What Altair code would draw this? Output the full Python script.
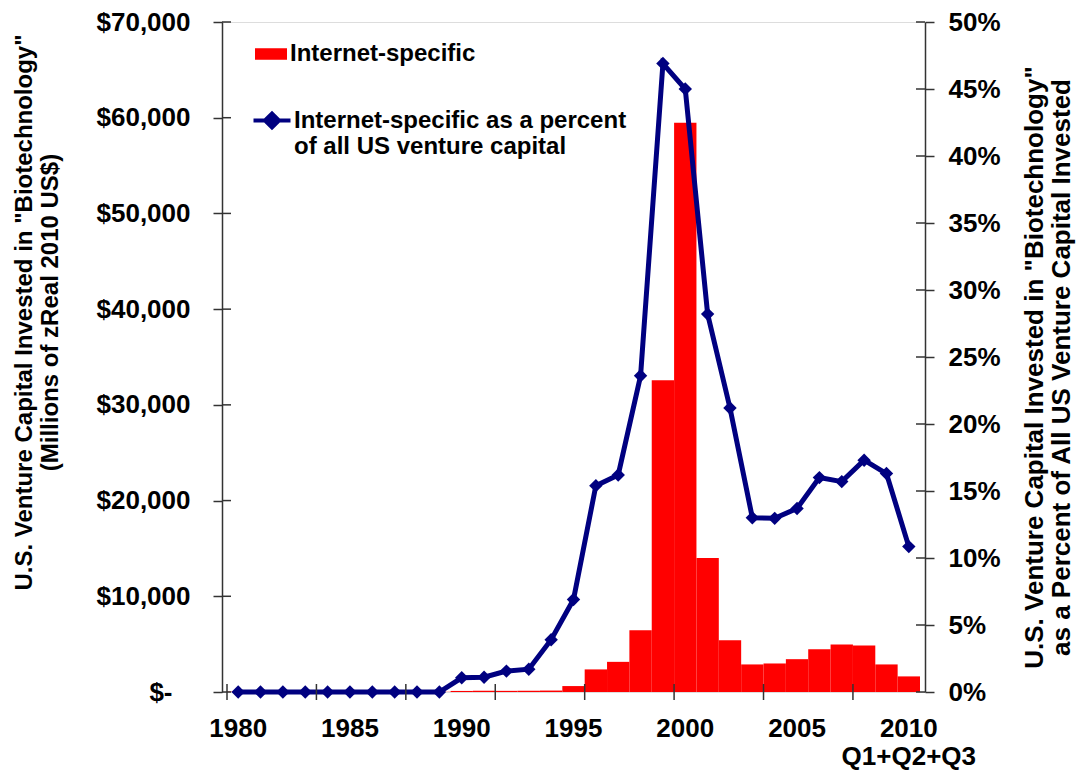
import altair as alt
import pandas as pd

# ---------------- data ----------------
years = list(range(1980, 2011))
internet_musd = [40, 20, 20, 20, 20, 20, 20, 20, 20, 20,
                 110, 120, 120, 130, 150, 620, 2360, 3150, 6440, 32570,
                 59470, 13990, 5400, 2880, 2980, 3430, 4470, 4950, 4850, 2880, 1630]
internet_pct = [0, 0, 0, 0, 0, 0, 0, 0, 0, 0,
                1.06, 1.1, 1.56, 1.7, 3.9, 6.9, 15.4, 16.2, 23.6, 46.9,
                45.0, 28.2, 21.2, 13.0, 12.96, 13.7, 16.0, 15.7, 17.3, 16.3, 10.85]
left_ticks = [0, 10000, 20000, 30000, 40000, 50000, 60000, 70000]
right_ticks = [0, 5, 10, 15, 20, 25, 30, 35, 40, 45, 50]
x_label_years = [1980, 1985, 1990, 1995, 2000, 2005, 2010]
x_labels = ["1980", "1985", "1990", "1995", "2000", "2005", "2010|Q1+Q2+Q3"]
x_tick_edges = [1979.5, 1983.5, 1987.5, 1991.5, 1995.5, 1999.5, 2003.5, 2007.5]
bar_series = "Internet-specific"
line_series = "Internet-specific as a percent|of all US venture capital"
left_title = ['U.S. Venture Capital Invested in "Biotechnology"', '(Millions of zReal 2010 US$)']
right_title = ['U.S. Venture Capital Invested in "Biotechnology"',
               'as a Percent of All US Venture Capital Invested']

# ---------------- styling ----------------
W, H = 703, 670
FONT = "Liberation Sans"
NAVY = "#000080"
RED = "#ff0000"
AX = "#333333"

df = pd.DataFrame({"year": years, "musd": internet_musd, "pct": internet_pct})
df["bar_series"] = bar_series
df["line_series"] = line_series

xscale = alt.Scale(domain=[1979.5, 2010.5], nice=False, zero=False)
yl = alt.Scale(domain=[0, 70000], nice=False)
yr = alt.Scale(domain=[0, 50], nice=False)

base = alt.Chart(df)

bars = base.transform_calculate(
    x0="datum.year - 0.5", x1="datum.year + 0.5"
).mark_bar(strokeWidth=0, orient="vertical").encode(
    x=alt.X("x0:Q", scale=xscale, axis=None),
    x2="x1:Q",
    y=alt.Y("musd:Q", scale=yl,
            axis=alt.Axis(values=left_ticks,
                          labelExpr="datum.value == 0 ? '$-' : '$' + format(datum.value, ',')",
                          grid=False, tickSize=9, tickWidth=1.5, tickColor=AX,
                          domainColor=AX, domainWidth=1.5,
                          labelPadding={"condition": {"test": "datum.value == 0", "value": 41},
                                        "value": 23},
                          labelFont=FONT, labelFontSize=26, labelFontWeight="bold",
                          labelColor="black", labelOverlap=False,
                          title=left_title, titleFont=FONT, titleFontSize=24,
                          titleFontWeight="bold", titleColor="black", titleAngle=270,
                          titleX=-198, titleY=290, titleAlign="center",
                          titleBaseline="middle", titleLineHeight=26)),
    y2=alt.datum(0),
    fill=alt.Fill("bar_series:N", scale=alt.Scale(range=[RED]),
                  legend=alt.Legend(title=None, orient="none", legendX=33, legendY=16,
                                    symbolType="M-1,-0.36L1,-0.36L1,0.36L-1,0.36Z",
                                    symbolSize=1024, symbolStrokeWidth=0,
                                    labelFont=FONT, labelFontSize=24, labelFontWeight="bold",
                                    labelColor="black", labelOffset=3, labelLimit=600)),
)

line = base.mark_line(strokeWidth=5).encode(
    x=alt.X("year:Q", scale=xscale, axis=None),
    y=alt.Y("pct:Q", scale=yr,
            axis=alt.Axis(orient="right", values=right_ticks,
                          labelExpr="datum.value + '%'",
                          grid=False, tickSize=9, tickWidth=1.5, tickColor=AX,
                          domainColor=AX, domainWidth=1.5, labelPadding=14,
                          labelFont=FONT, labelFontSize=26, labelFontWeight="bold",
                          labelColor="black", labelOverlap=False,
                          title=right_title, titleFont=FONT, titleFontSize=26,
                          titleFontWeight="bold", titleColor="black", titleAngle=270,
                          titleX=109, titleY=345, titleAlign="center",
                          titleBaseline="middle", titleLineHeight=27)),
    stroke=alt.Stroke("line_series:N", scale=alt.Scale(range=[NAVY]),
                      legend=alt.Legend(title=None, orient="none", legendX=29.5, legendY=78,
                                        symbolType="M-1,0L1,0M-0.38,0L0,-0.38L0.38,0L0,0.38Z",
                                        symbolSize=1369, symbolStrokeWidth=4,
                                        symbolStrokeColor=NAVY, symbolFillColor=NAVY,
                                        labelExpr="split(datum.label, '|')",
                                        labelBaseline="middle",
                                        labelFont=FONT, labelFontSize=24, labelFontWeight="bold",
                                        labelColor="black", labelOffset=1.5, labelLimit=600)),
)

points = base.mark_point(shape="diamond", filled=True, size=180, color=NAVY, opacity=1).encode(
    x=alt.X("year:Q", scale=xscale, title=None,
            axis=alt.Axis(values=x_label_years, labels=False, ticks=False, grid=False,
                          domainColor=AX, domainWidth=1.5)),
    y=alt.Y("pct:Q", scale=yr, axis=None),
)

x_text = alt.Chart(pd.DataFrame({"year": x_label_years, "lab": x_labels})).mark_text(
    font=FONT, fontSize=26, fontWeight="bold", color="black", align="center",
    baseline="middle", lineBreak="|", lineHeight=28,
).encode(
    x=alt.X("year:Q", scale=xscale, axis=None),
    y=alt.value(H + 37),
    text="lab:N",
)

left_inner = alt.Chart(pd.DataFrame({"v": left_ticks})).mark_rule(color=AX, strokeWidth=1.5).encode(
    y=alt.Y("v:Q", scale=yl, axis=None), x=alt.value(0), x2=alt.value(9))
right_inner = alt.Chart(pd.DataFrame({"v": right_ticks})).mark_rule(color=AX, strokeWidth=1.5).encode(
    y=alt.Y("v:Q", scale=yr, axis=None), x=alt.value(W - 9), x2=alt.value(W))
x_marks = alt.Chart(pd.DataFrame({"v": x_tick_edges})).mark_rule(color=AX, strokeWidth=1.5).encode(
    x=alt.X("v:Q", scale=xscale, axis=None), y=alt.value(H - 8), y2=alt.value(H + 8))

chart = alt.layer(bars, line, points, x_text, left_inner, right_inner, x_marks).resolve_scale(
    y="independent"
).properties(
    width=W, height=H,
    autosize=alt.AutoSizeParams(type="none"),
    padding={"left": 214, "top": 14, "right": 152, "bottom": 80},
    background="white",
).configure_view(stroke=None).configure(font=FONT)

chart.save("out.html", embed_options={"renderer": "svg", "actions": False})
